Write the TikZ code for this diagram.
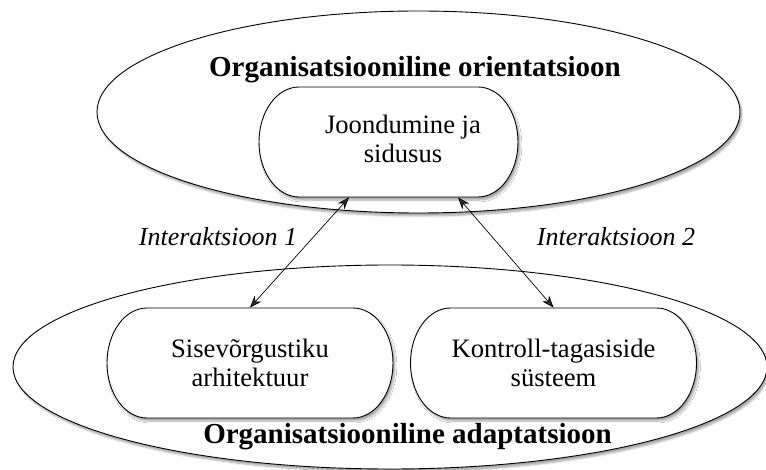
\documentclass[tikz,border=0pt]{standalone}
\usepackage{fontspec}
\setmainfont{Liberation Serif}
\usetikzlibrary{shadows.blur, arrows.meta}
\newcommand\pillnode[4]{%
  \draw[field] (#2) ++({-#3/2+40}, -55) -- ++({#3-80}, 0)
    arc[start angle=90, end angle=-90, x radius=40pt, y radius=55pt] -- ++({-#3+80}, 0)
    arc[start angle=270, end angle=90, x radius=40pt, y radius=55pt] -- cycle;
  \node[pill, minimum width=#3pt] (#1) at (#2) {#4};}

\begin{document}
\begin{tikzpicture}[x=1pt, y=-1pt, line width=0.9pt,
  field/.style={draw, fill=white, blur shadow={shadow xshift=2pt, shadow yshift=-3pt, shadow opacity=35, shadow blur steps=6}},
  pill/.style={rectangle, minimum height=110pt, inner sep=0pt, align=center, font=\fontsize{26.6}{29}\selectfont},
  link/.style={{Stealth[length=12pt,width=9pt]}-{Stealth[length=12pt,width=9pt]}, line width=0.7pt},
  heading/.style={anchor=base, font=\fontsize{29}{32}\selectfont\bfseries},
  tag/.style={anchor=base, font=\fontsize{26}{29}\selectfont\itshape}]
  \useasboundingbox (0, 0) rectangle (766, 470);
  \draw[field] (418.5, 112) ellipse [x radius=321.5, y radius=101];
  \draw[field] (390, 367) ellipse [x radius=377, y radius=102];
  \pillnode{jsid}{388.5, 142}{259}{\hspace*{29pt}\begin{tabular}{@{}c@{}}Joondumine ja\\sidusus\end{tabular}}
  \pillnode{sisev}{250, 363}{286}{Sisevõrgustiku\\arhitektuur}
  \pillnode{kontr}{553.5, 363}{286}{Kontroll-tagasiside\\süsteem}
  \draw[link] ([xshift=-39.5pt]jsid.south) -- (sisev.north);
  \draw[link] ([xshift=69.5pt]jsid.south) -- (kontr.north);
  \node[heading] (orient) at (415, 77) {Organisatsiooniline orientatsioon};
  \node[heading] (adapt) at (407.5, 443) {Organisatsiooniline adaptatsioon};
  \node[tag] (inter1) at (218, 246) {Interaktsioon 1};
  \node[tag] (inter2) at (616, 246) {Interaktsioon 2};
\end{tikzpicture}
\end{document}
